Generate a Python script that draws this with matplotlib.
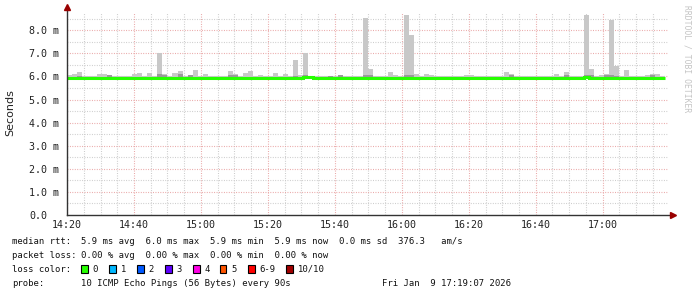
import numpy as np
import matplotlib
matplotlib.use("Agg")
import matplotlib.pyplot as plt
from matplotlib.patches import Rectangle

# ---------------- data ----------------
# time axis: minutes after 14:00, one bin every 90 s starting 14:20
bin_start_min = 20.0
bin_width_min = 1.5

# maximum ping per bin (ms)
rtt_max = [6.05, 6.10, 6.20, 6.03, 6.00, 6.00, 6.10, 6.10, 6.08, 6.00,
           6.03, 6.00, 6.00, 6.10, 6.15, 6.02, 6.15, 6.02, 7.00, 6.10,
           6.00, 6.15, 6.25, 6.00, 6.00, 6.30, 6.00, 6.10, 6.00, 6.02,
           6.02, 6.00, 6.25, 6.10, 6.00, 6.15, 6.22, 6.00, 6.05, 6.00,
           6.00, 6.15, 6.00, 6.10, 6.00, 6.70, 6.05, 7.00, 6.00, 6.02,
           6.00, 6.00, 6.03, 6.00, 6.05, 6.02, 6.00, 6.00, 6.00, 8.55,
           6.32, 6.00, 6.02, 6.00, 6.20, 6.05, 6.00, 8.66, 7.80, 6.12,
           6.00, 6.10, 6.07, 6.00, 6.00, 6.00, 6.02, 6.03, 6.00, 6.05,
           6.07, 6.00, 6.00, 6.00, 6.03, 6.00, 6.00, 6.20, 6.10, 6.00,
           6.00, 6.00, 6.03, 6.00, 6.00, 6.02, 6.00, 6.10, 6.00, 6.20,
           6.00, 6.00, 6.00, 8.66, 6.32, 6.00, 6.05, 6.12, 8.44, 6.45,
           6.00, 6.28, 6.00, 6.00, 6.00, 6.05, 6.12, 6.10, 6.00]

# minimum ping per bin (ms)
rtt_min = [5.88, 5.87, 5.86, 5.88, 5.88, 5.88, 5.88, 5.88, 5.87, 5.88,
           5.88, 5.88, 5.88, 5.83, 5.83, 5.88, 5.87, 5.88, 5.87, 5.87,
           5.88, 5.87, 5.86, 5.88, 5.88, 5.87, 5.88, 5.88, 5.88, 5.88,
           5.86, 5.86, 5.87, 5.88, 5.88, 5.88, 5.87, 5.88, 5.88, 5.88,
           5.88, 5.88, 5.88, 5.88, 5.88, 5.86, 5.88, 5.87, 5.88, 5.88,
           5.88, 5.88, 5.88, 5.88, 5.88, 5.88, 5.88, 5.88, 5.88, 5.87,
           5.88, 5.88, 5.88, 5.88, 5.88, 5.86, 5.88, 5.87, 5.87, 5.88,
           5.88, 5.88, 5.88, 5.88, 5.88, 5.86, 5.88, 5.88, 5.88, 5.88,
           5.88, 5.88, 5.88, 5.88, 5.88, 5.88, 5.88, 5.88, 5.88, 5.88,
           5.88, 5.88, 5.88, 5.88, 5.88, 5.88, 5.88, 5.88, 5.88, 5.88,
           5.88, 5.88, 5.85, 5.87, 5.87, 5.88, 5.88, 5.88, 5.87, 5.87,
           5.88, 5.86, 5.88, 5.88, 5.88, 5.88, 5.88, 5.88, 5.88]

# darker inner smoke upper bound per bin (ms)
rtt_inner = [5.96, 5.96, 6.00, 5.95, 5.94, 5.94, 5.96, 5.96, 6.08, 5.94,
             5.95, 5.94, 5.94, 5.96, 5.97, 5.95, 5.97, 5.95, 6.10, 6.08,
             5.94, 5.97, 6.12, 5.94, 6.05, 5.98, 5.94, 5.96, 5.94, 5.95,
             5.95, 5.94, 6.08, 6.05, 5.94, 5.97, 5.98, 5.94, 5.95, 5.94,
             5.94, 5.97, 5.94, 5.96, 5.94, 6.00, 5.97, 6.05, 5.97, 5.97,
             5.94, 5.94, 6.03, 5.94, 6.05, 5.96, 5.96, 5.94, 5.94, 6.07,
             6.05, 5.94, 5.95, 5.94, 5.98, 5.95, 5.94, 6.07, 6.05, 5.97,
             5.94, 5.96, 5.96, 5.94, 5.94, 5.94, 5.95, 5.95, 5.94, 5.95,
             5.96, 5.94, 5.94, 5.94, 5.95, 5.94, 5.94, 5.98, 6.05, 5.94,
             5.94, 5.94, 5.95, 5.94, 5.94, 5.95, 5.94, 5.96, 5.94, 6.05,
             5.94, 5.94, 5.94, 6.05, 6.05, 5.94, 5.96, 6.05, 6.05, 6.02,
             5.97, 5.98, 5.94, 5.94, 5.94, 5.95, 6.05, 5.98, 5.94]

# median rtt per bin (ms)
rtt_median = [5.95, 5.95, 5.94, 5.93, 5.93, 5.92, 5.93, 5.93, 5.93, 5.93,
              5.93, 5.93, 5.93, 5.92, 5.92, 5.93, 5.93, 5.93, 5.94, 5.94,
              5.93, 5.93, 5.93, 5.93, 5.93, 5.93, 5.93, 5.93, 5.93, 5.93,
              5.92, 5.92, 5.94, 5.93, 5.93, 5.93, 5.93, 5.93, 5.93, 5.92,
              5.92, 5.93, 5.93, 5.93, 5.93, 5.92, 5.95, 5.96, 5.96, 5.95,
              5.93, 5.93, 5.94, 5.93, 5.95, 5.94, 5.94, 5.93, 5.93, 5.93,
              5.93, 5.92, 5.93, 5.93, 5.93, 5.93, 5.93, 5.94, 5.94, 5.93,
              5.93, 5.93, 5.93, 5.93, 5.93, 5.92, 5.92, 5.93, 5.93, 5.93,
              5.93, 5.93, 5.93, 5.93, 5.93, 5.93, 5.93, 5.94, 5.94, 5.93,
              5.93, 5.93, 5.93, 5.93, 5.93, 5.93, 5.93, 5.94, 5.94, 5.93,
              5.93, 5.93, 5.93, 5.96, 5.95, 5.93, 5.93, 5.94, 5.95, 5.94,
              5.94, 5.94, 5.93, 5.92, 5.93, 5.93, 5.94, 5.94, 5.93]

x_tick_pos = [20, 40, 60, 80, 100, 120, 140, 160, 180]
x_tick_labels = ["14:20", "14:40", "15:00", "15:20", "15:40",
                 "16:00", "16:20", "16:40", "17:00"]
y_tick_pos = [0, 1, 2, 3, 4, 5, 6, 7, 8]
y_tick_labels = ["0.0", "1.0 m", "2.0 m", "3.0 m", "4.0 m",
                 "5.0 m", "6.0 m", "7.0 m", "8.0 m"]

loss_labels = ["0", "1", "2", "3", "4", "5", "6-9", "10/10"]
loss_colors = ["#26ff00", "#00b8ff", "#0059ff", "#5e00ff",
               "#ff00e6", "#ff5500", "#ff0000", "#a00000"]

legend_lines = [
    ("median rtt:", "5.9 ms avg  6.0 ms max  5.9 ms min  5.9 ms now  0.0 ms sd  376.3   am/s"),
    ("packet loss:", "0.00 % avg  0.00 % max  0.00 % min  0.00 % now"),
]
probe_text = "10 ICMP Echo Pings (56 Bytes) every 90s"
stamp_text = "Fri Jan  9 17:19:07 2026"

# ---------------- figure ----------------
W, H = 697, 297
fig = plt.figure(figsize=(W / 100, H / 100), dpi=100)
fig.patch.set_facecolor("white")

ax_left, ax_right, ax_bottom, ax_top = 66.7, 668.0, 215.0, 13.0
ax = fig.add_axes([ax_left / W, 1 - ax_bottom / H,
                   (ax_right - ax_left) / W, (ax_bottom - ax_top) / H])
ax.set_facecolor("white")

n = len(rtt_max)
edges = bin_start_min + bin_width_min * np.arange(n + 1)
lefts = edges[:-1]
hi = np.array(rtt_max)
lo = np.array(rtt_min)
inner = np.array(rtt_inner)
med = np.array(rtt_median)

ax.set_xlim(19.9, 199.5)
ax.set_ylim(0, 8.75)

# grid
minor_col = "#c8c8c8"
major_col = "#e8a0a0"
dash = (0, (0.8, 1.4))
for t in np.arange(25, 200, 5):
    if t % 20 != 0:
        ax.axvline(t, color=minor_col, lw=0.8, ls=dash, zorder=0)
for v in np.arange(0.5, 8.75, 1.0):
    ax.axhline(v, color=minor_col, lw=0.8, ls=dash, zorder=0)
for t in x_tick_pos:
    ax.axvline(t, color=major_col, lw=0.8, ls=dash, zorder=0.5)
for v in y_tick_pos[1:]:
    ax.axhline(v, color=major_col, lw=0.8, ls=dash, zorder=0.5)

# smoke
ax.bar(lefts, hi - lo, bottom=lo, width=bin_width_min, align="edge",
       color="#c8c8c8", linewidth=0, zorder=2)
ax.bar(lefts, inner - med, bottom=med, width=bin_width_min, align="edge",
       color="#9a9a9a", linewidth=0, zorder=2.5)
# median line
ax.stairs(med, edges, baseline=None, color="#26ff00", lw=2.2, zorder=3)

# axes, ticks
for s in ax.spines.values():
    s.set_visible(False)
ax.plot([0, 0], [0, 1.022], transform=ax.transAxes, color="#333333",
        lw=1.0, clip_on=False, zorder=4)
ax.plot([0, 1.006], [0, 0], transform=ax.transAxes, color="#333333",
        lw=1.0, clip_on=False, zorder=4)
ax.plot([0], [1.03], transform=ax.transAxes, marker="^", ms=4,
        color="#990000", clip_on=False, zorder=5)
ax.plot([1.008], [0], transform=ax.transAxes, marker=">", ms=4,
        color="#990000", clip_on=False, zorder=5)

mono = "DejaVu Sans Mono"
ax.set_xticks(x_tick_pos)
ax.set_xticklabels(x_tick_labels, fontfamily=mono, fontsize=7.2, color="#222222")
ax.set_yticks(y_tick_pos)
ax.set_yticklabels(y_tick_labels, fontfamily=mono, fontsize=7.2, color="#222222",
                   ha="left")
ax.tick_params(axis="x", length=0, pad=3.6)
ax.tick_params(axis="y", length=0, pad=(ax_left - 29) / 1.389)

fig.text(10.5 / W, 1 - 113 / H, "Seconds", rotation=90, ha="center",
         va="center", fontsize=8, family="DejaVu Sans", color="#222222")

fig.text(687 / W, 1 - 5 / H, "RRDTOOL / TOBI OETIKER", rotation=270,
         ha="center", va="top", fontsize=5.8, family=mono, color="#c4c4c4")

# legend
lfs = 6.4
col2 = 80.7
rows_y = [241, 255.5, 269.5, 283.3]
for (lab, val), yy in zip(legend_lines, rows_y[:2]):
    fig.text(12 / W, 1 - yy / H, lab, ha="left", va="center",
             fontsize=lfs, family=mono, color="#111111")
    fig.text(col2 / W, 1 - yy / H, val, ha="left", va="center",
             fontsize=lfs, family=mono, color="#111111")

fig.text(12 / W, 1 - rows_y[2] / H, "loss color:", ha="left", va="center",
         fontsize=lfs, family=mono, color="#111111")
box_x = [81, 109, 137, 165, 193, 220, 248, 286]
for bx, lab, c in zip(box_x, loss_labels, loss_colors):
    fig.patches.append(Rectangle((bx / W, 1 - 272.5 / H), 6.5 / W, 7.5 / H,
                                 transform=fig.transFigure, facecolor=c,
                                 edgecolor="black", lw=0.8))
    fig.text((bx + 11.8) / W, 1 - rows_y[2] / H, lab, ha="left", va="center",
             fontsize=lfs, family=mono, color="#111111")

fig.text(12 / W, 1 - rows_y[3] / H, "probe:", ha="left", va="center",
         fontsize=lfs, family=mono, color="#111111")
fig.text(col2 / W, 1 - rows_y[3] / H, probe_text, ha="left", va="center",
         fontsize=lfs, family=mono, color="#111111")
fig.text(510.5 / W, 1 - rows_y[3] / H, stamp_text, ha="right", va="center",
         fontsize=lfs, family=mono, color="#111111")

fig.savefig("out.png", dpi=100, facecolor="white")
